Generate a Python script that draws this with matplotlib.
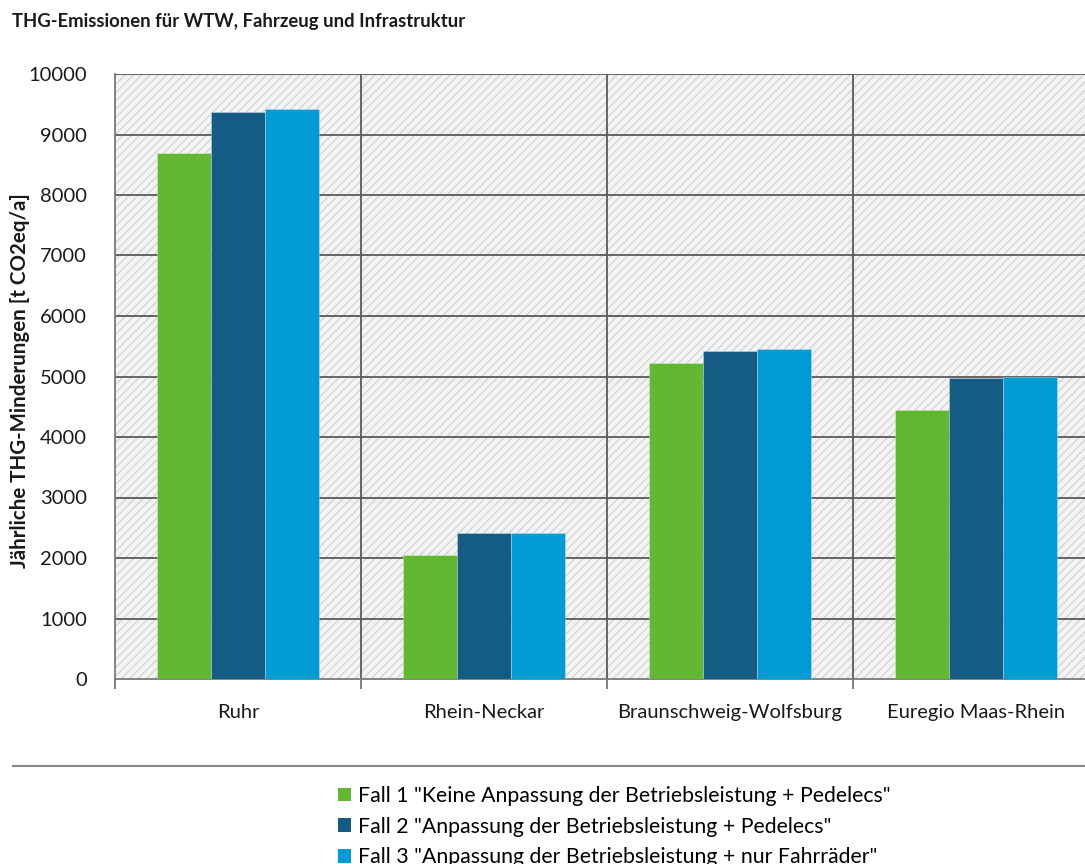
import matplotlib
matplotlib.use("Agg")
import matplotlib.pyplot as plt
import numpy as np
from matplotlib.patches import Rectangle, Patch
from matplotlib.lines import Line2D

categories = ["Ruhr", "Rhein-Neckar", "Braunschweig-Wolfsburg", "Euregio Maas-Rhein"]
fall1 = [8700, 2050, 5220, 4450]
fall2 = [9370, 2410, 5420, 4970]
fall3 = [9420, 2410, 5450, 4990]
series_labels = [
    'Fall 1 "Keine Anpassung der Betriebsleistung + Pedelecs"',
    'Fall 2 "Anpassung der Betriebsleistung + Pedelecs"',
    'Fall 3 "Anpassung der Betriebsleistung + nur Fahrräder"',
]
colors = ["#62B733", "#155C84", "#009BD5"]
yticks = [0, 1000, 2000, 3000, 4000, 5000, 6000, 7000, 8000, 9000, 10000]

plt.rcParams['font.family'] = ['Lato', 'DejaVu Sans']
plt.rcParams['hatch.linewidth'] = 0.9
plt.rcParams['hatch.color'] = '#d4d4d4'

W, H = 1085, 864
fig = plt.figure(figsize=(W / 100, H / 100), dpi=100)
left, right, top, bottom = 115, 1099, 74, 679
ax = fig.add_axes([left / W, 1 - bottom / H, (right - left) / W, (bottom - top) / H])

n = len(categories)
ax.set_xlim(-0.5, n - 0.5)
ax.set_ylim(0, 10000)

# hatched background
ax.set_facecolor('#f3f3f3')
ax.add_patch(Rectangle((0, 0), 1, 1, transform=ax.transAxes, facecolor='none',
                       hatch='////', edgecolor='#d2d2d2', linewidth=0, zorder=0))

x = np.arange(n)
bw = 0.22
for i, (vals, c) in enumerate(zip([fall1, fall2, fall3], colors)):
    ax.bar(x + (i - 1) * bw, vals, width=bw, color=c, edgecolor='#ffffff55',
           linewidth=0.6, zorder=3)

# grid
for yv in yticks[1:]:
    ax.axhline(yv, color='#5a5a5a', lw=1.3, zorder=2)
for xv in np.arange(0.5, n - 0.5, 1):
    ax.axvline(xv, color='#5a5a5a', lw=1.3, zorder=2)

for s in ['top', 'right']:
    ax.spines[s].set_visible(False)
ax.spines['left'].set_color('#7a7a7a')
ax.spines['left'].set_linewidth(1.3)
ax.spines['bottom'].set_color('#7a7a7a')
ax.spines['bottom'].set_linewidth(1.3)

ax.set_yticks(yticks)
ax.set_yticklabels([str(v) for v in yticks], fontsize=14.5, color='#1a1a1a')
ax.tick_params(axis='y', length=0, pad=20)
ax.set_xticks(x)
ax.set_xticklabels(categories, fontsize=14.5, color='#1a1a1a')
ax.tick_params(axis='x', which='major', length=0, pad=18)
ax.set_xticks(np.arange(-0.5, n, 1), minor=True)
ax.tick_params(axis='x', which='minor', length=7, width=1.3, color='#7a7a7a', direction='out')

fig.text(20 / W, 1 - 381 / H, 'Jährliche THG-Minderungen [t CO2eq/a]', rotation=90,
         fontsize=14.8, fontweight='bold', ha='center', va='center', color='#1a1a1a')
fig.text(12 / W, 1 - 22 / H, 'THG-Emissionen für WTW, Fahrzeug und Infrastruktur',
         fontsize=13.3, fontweight='bold', ha='left', va='center', color='#1a1a1a')

# separator line
fig.add_artist(Line2D([13 / W, 1.0], [1 - 766 / H, 1 - 766 / H], color='#888888', lw=1.5))

handles = [Patch(facecolor=c, edgecolor='none') for c in colors]
fig.legend(handles, series_labels, loc='upper left', bbox_to_anchor=(338 / W, 1 - 786 / H),
           frameon=False, fontsize=15.3, handlelength=0.6, handleheight=0.6,
           handletextpad=0.35, labelspacing=0.5, borderaxespad=0, borderpad=0)

fig.savefig('out.png', dpi=100)
